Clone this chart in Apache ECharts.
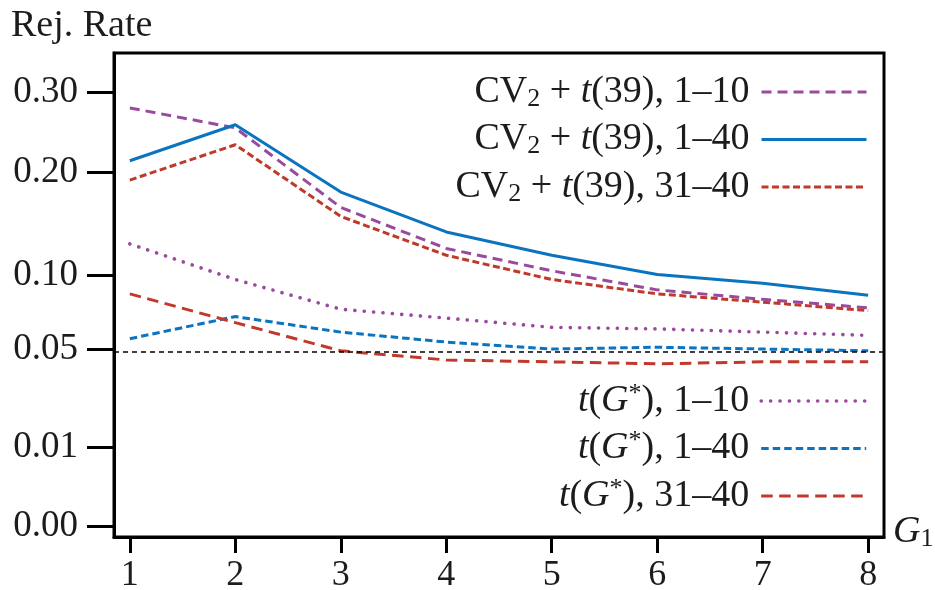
<!DOCTYPE html>
<html><head><meta charset="utf-8">
<script src="https://cdn.jsdelivr.net/npm/echarts@6/dist/echarts.min.js"></script>
<style>html,body{margin:0;padding:0;background:#fff}#c{width:935px;height:590px}</style>
</head><body><div id="c"></div>
<script>
// ---- data ----
const G1 = [1, 2, 3, 4, 5, 6, 7, 8];
const cv2_1_10  = [0.279, 0.253, 0.162, 0.123, 0.104, 0.089, 0.082, 0.076];
const cv2_1_40  = [0.213, 0.257, 0.178, 0.138, 0.117, 0.101, 0.094, 0.085];
const cv2_31_40 = [0.191, 0.232, 0.153, 0.117, 0.097, 0.086, 0.080, 0.074];
const tg_1_10   = [0.127, 0.097, 0.075, 0.069, 0.063, 0.062, 0.060, 0.058];
const tg_1_40   = [0.056, 0.070, 0.060, 0.054, 0.050, 0.051, 0.050, 0.049];
const tg_31_40  = [0.086, 0.066, 0.049, 0.044, 0.043, 0.042, 0.043, 0.043];
const yTicks = [0.00, 0.01, 0.05, 0.10, 0.20, 0.30];
const xTicks = [1, 2, 3, 4, 5, 6, 7, 8];
const refLevel = 0.049;
const names = ['CV2 + t(39), 1–10', 'CV2 + t(39), 1–40', 'CV2 + t(39), 31–40',
               't(G*), 1–10', 't(G*), 1–40', 't(G*), 31–40'];
const legendLabels = {
  'CV2 + t(39), 1–10':  'CV{sub|2} + {it|t}(39), {e|1–10}',
  'CV2 + t(39), 1–40':  'CV{sub|2} + {it|t}(39), {e|1–40}',
  'CV2 + t(39), 31–40': 'CV{sub|2} + {it|t}(39), {e|31–40}',
  't(G*), 1–10':  '{it|t}({it|G}{sup|*}), {e|1–10}',
  't(G*), 1–40':  '{it|t}({it|G}{sup|*}), {e|1–40}',
  't(G*), 31–40': '{it|t}({it|G}{sup|*}), {e|31–40}'
};

// ---- styling ----
const FONT = 'Liberation Serif';
const TXT = '#1c1c1c';
const PURPLE = '#9a4a9e', BLUE = '#0b74c0', RED = '#c0392b';
const LF = 38;
const sq = v => Math.sqrt(v);   // square-root y scale
const pts = arr => G1.map((g, i) => [g, sq(arr[i])]);

const rich = {
  sub: {fontFamily: FONT, fontSize: 26, lineHeight: 23, verticalAlign: 'bottom', color: TXT},
  sup: {fontFamily: FONT, fontSize: 26, lineHeight: 24, verticalAlign: 'top', color: TXT},
  it:  {fontFamily: FONT, fontSize: LF, lineHeight: 40, fontStyle: 'italic', color: TXT},
  e:   {fontFamily: FONT, fontSize: LF, lineHeight: 40, padding: [0, 7, 0, 0], color: TXT}
};

function lineSeries(name, arr, color, type, width, cap) {
  return {
    name, type: 'line', data: pts(arr), symbol: 'none', silent: true,
    lineStyle: {color, width, type, cap: cap || 'butt'},
    itemStyle: {color}
  };
}

const series = [
  lineSeries(names[0], cv2_1_10, PURPLE, [10, 6], 3),
  lineSeries(names[1], cv2_1_40, BLUE, 'solid', 3),
  lineSeries(names[2], cv2_31_40, RED, [7, 3.5], 3),
  lineSeries(names[3], tg_1_10, PURPLE, [0.1, 9.3], 3.6, 'round'),
  lineSeries(names[4], tg_1_40, BLUE, [7.5, 4], 3),
  lineSeries(names[5], tg_31_40, RED, [11.5, 6.5], 3)
];
series[0].markLine = {
  silent: true, symbol: ['none', 'none'], label: {show: false}, animation: false,
  lineStyle: {color: '#000', width: 1.5, type: [5, 4]},
  data: [{yAxis: sq(refLevel)}]
};

function legend(data, top) {
  return {
    data, orient: 'vertical', right: 62, top, align: 'right',
    itemWidth: 105, itemHeight: 14, itemGap: 7.5, padding: 5, selectedMode: false,
    textStyle: {fontFamily: FONT, fontSize: LF, lineHeight: 40, color: TXT, rich},
    formatter: n => legendLabels[n],
    itemStyle: {color: 'rgba(0,0,0,0)', borderColor: 'rgba(0,0,0,0)', borderWidth: 0},
    lineStyle: {width: 'inherit'}
  };
}

const option = {
  animation: false,
  backgroundColor: '#fff',
  title: {
    text: 'Rej. Rate', left: 6, top: 2,
    textStyle: {fontFamily: FONT, fontSize: 38, fontWeight: 'normal', color: TXT}
  },
  grid: {left: 114, right: 51, top: 53, bottom: 53, show: true, borderColor: '#000', borderWidth: 3,
         outerBoundsMode: 'none', containLabel: false},
  legend: [legend(names.slice(0, 3), 67), legend(names.slice(3), 376)],
  xAxis: {
    type: 'value', min: 0.85, max: 8.15,
    name: '{it|G}{sub|1}', nameLocation: 'end', nameGap: 9,
    nameTextStyle: {fontFamily: FONT, fontSize: 36, color: TXT, align: 'left', verticalAlign: 'middle',
                    padding: [0, 0, 10, 0], rich},
    axisLine: {show: true, onZero: false, lineStyle: {color: '#000', width: 3}},
    axisTick: {show: true, length: 16, lineStyle: {color: '#000', width: 3}, customValues: xTicks},
    axisLabel: {customValues: xTicks, margin: 21, fontFamily: FONT, fontSize: 36, color: TXT},
    splitLine: {show: false}
  },
  yAxis: {
    type: 'value', min: -0.0139, max: 0.5976,
    axisLine: {show: true, onZero: false, lineStyle: {color: '#000', width: 3}},
    axisTick: {show: true, length: 27, lineStyle: {color: '#000', width: 3}, customValues: yTicks.map(sq)},
    axisLabel: {customValues: yTicks.map(sq), margin: 36, fontFamily: FONT, fontSize: 37, color: TXT,
                formatter: v => (v * v).toFixed(2)},
    splitLine: {show: false}
  },
  series
};
const chart = echarts.init(document.getElementById('c'), null, {renderer: 'canvas'});
chart.setOption(option);
</script></body></html>
